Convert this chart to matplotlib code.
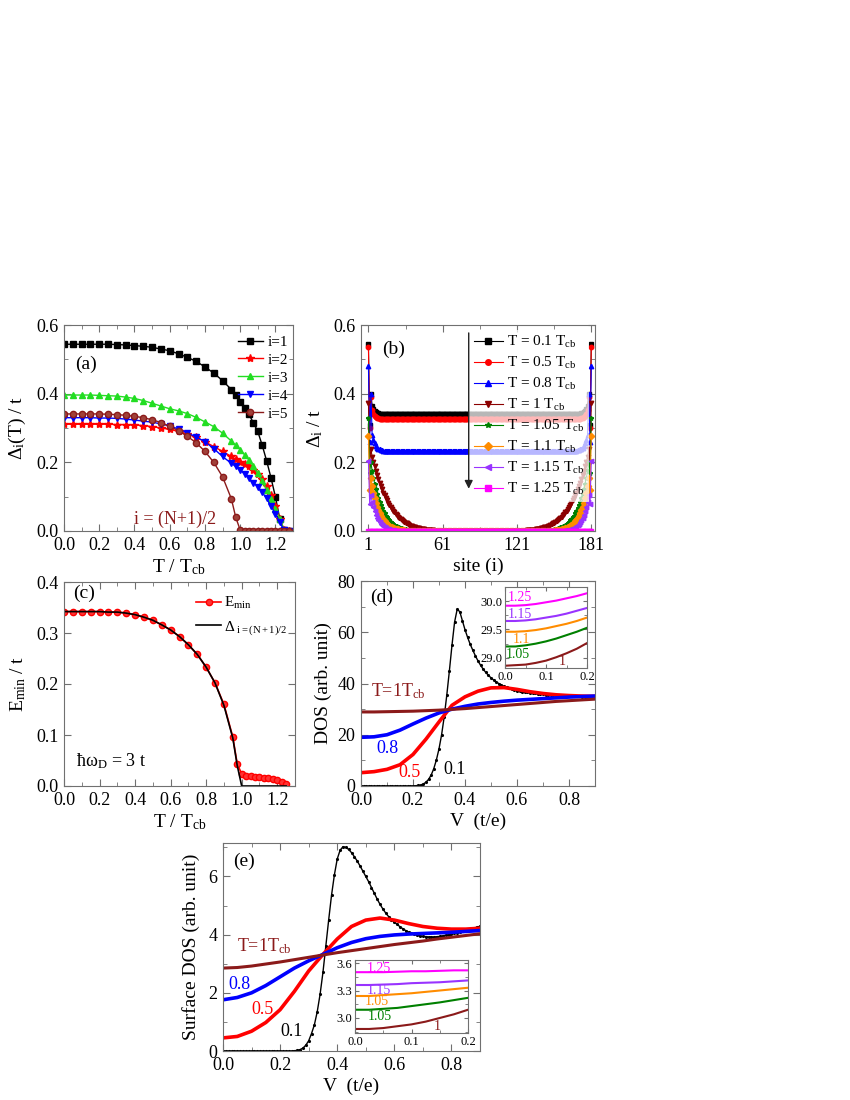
import matplotlib
matplotlib.use('Agg')
import matplotlib.pyplot as plt
from matplotlib.ticker import MultipleLocator, FixedLocator, FormatStrFormatter

plt.rcParams['font.family'] = 'serif'
plt.rcParams['font.serif'] = ['Liberation Serif', 'DejaVu Serif']
plt.rcParams['mathtext.fontset'] = 'custom'
plt.rcParams['mathtext.rm'] = 'Liberation Serif'
plt.rcParams['mathtext.it'] = 'Liberation Serif:italic'
plt.rcParams['mathtext.bf'] = 'Liberation Serif:bold'

BROWN = '#8B1A1A'
GRAY = '#707070'

# --- (a) gap at sites i=1..5 vs T ---
T_a = [0.0, 0.05, 0.1, 0.15, 0.2, 0.25, 0.3, 0.35, 0.4, 0.45, 0.5, 0.55, 0.6, 0.65,
       0.7, 0.75, 0.8, 0.85, 0.9, 0.95, 0.975, 1.0, 1.025, 1.05, 1.075, 1.1, 1.125,
       1.15, 1.175, 1.2, 1.225, 1.25, 1.275]
gap_i1 = [0.544, 0.544, 0.544, 0.544, 0.544, 0.544, 0.543, 0.542, 0.540, 0.538, 0.535,
          0.530, 0.525, 0.516, 0.506, 0.494, 0.478, 0.460, 0.438, 0.412, 0.395, 0.377,
          0.358, 0.340, 0.315, 0.290, 0.250, 0.205, 0.155, 0.100, 0.035, 0.002, 0.0]
gap_i2 = [0.311, 0.311, 0.311, 0.311, 0.311, 0.311, 0.310, 0.310, 0.309, 0.307, 0.304,
          0.300, 0.296, 0.290, 0.283, 0.273, 0.260, 0.246, 0.232, 0.217, 0.209, 0.201,
          0.195, 0.188, 0.178, 0.165, 0.150, 0.130, 0.105, 0.072, 0.035, 0.003, 0.0]
gap_i3 = [0.396, 0.396, 0.396, 0.396, 0.395, 0.394, 0.393, 0.390, 0.386, 0.380, 0.372,
          0.364, 0.356, 0.350, 0.342, 0.331, 0.318, 0.304, 0.285, 0.262, 0.250, 0.237,
          0.222, 0.207, 0.188, 0.168, 0.145, 0.120, 0.093, 0.063, 0.035, 0.003, 0.0]
gap_i4 = [0.330, 0.330, 0.330, 0.330, 0.329, 0.329, 0.328, 0.326, 0.323, 0.320, 0.317,
          0.312, 0.306, 0.297, 0.286, 0.274, 0.260, 0.240, 0.217, 0.197, 0.188, 0.178,
          0.166, 0.153, 0.141, 0.129, 0.113, 0.095, 0.073, 0.050, 0.025, 0.002, 0.0]
gap_i5 = [0.341, 0.341, 0.341, 0.341, 0.341, 0.340, 0.339, 0.337, 0.334, 0.330, 0.324,
          0.316, 0.305, 0.292, 0.276, 0.257, 0.232, 0.200, 0.158, 0.094, 0.040, 0.003,
          0.0, 0.0, 0.0, 0.0, 0.0, 0.0, 0.0, 0.0, 0.0, 0.0, 0.0]

# --- (b) gap profile along the chain (edge part, rest is bulk, mirrored) ---
N_SITES = 181
edge_01 = [0.545, 0.31, 0.40, 0.365, 0.355, 0.350, 0.347, 0.345, 0.343, 0.342, 0.341]
bulk_01 = 0.340
edge_05 = [0.535, 0.30, 0.39, 0.352, 0.342, 0.336, 0.332, 0.330, 0.328, 0.327, 0.326]
bulk_05 = 0.325
edge_08 = [0.48, 0.26, 0.40, 0.28, 0.265, 0.255, 0.248, 0.243, 0.240, 0.238, 0.236,
           0.235, 0.234, 0.233]
bulk_08 = 0.232
edge_10 = [0.374, 0.20, 0.24, 0.215, 0.200, 0.188, 0.175, 0.163, 0.152, 0.141, 0.131,
           0.121, 0.112, 0.104, 0.096, 0.089, 0.082, 0.076, 0.070, 0.064, 0.059, 0.054,
           0.050, 0.046, 0.042, 0.038, 0.035, 0.032, 0.029, 0.027, 0.024, 0.022, 0.020,
           0.018, 0.016, 0.015, 0.013, 0.012, 0.011, 0.010, 0.009, 0.008, 0.007, 0.006,
           0.005, 0.005, 0.004, 0.004, 0.003, 0.003, 0.002, 0.002, 0.002, 0.001, 0.001]
edge_105 = [0.33, 0.17, 0.20, 0.175, 0.155, 0.138, 0.122, 0.108, 0.096, 0.085, 0.075,
            0.066, 0.058, 0.051, 0.045, 0.040, 0.035, 0.031, 0.027, 0.024, 0.021, 0.018,
            0.016, 0.014, 0.012, 0.011, 0.009, 0.008, 0.007, 0.006, 0.005, 0.004, 0.004,
            0.003, 0.003, 0.002, 0.002, 0.001]
edge_11 = [0.276, 0.12, 0.155, 0.130, 0.112, 0.096, 0.083, 0.071, 0.061, 0.052, 0.045,
           0.038, 0.033, 0.028, 0.024, 0.020, 0.017, 0.015, 0.013, 0.011, 0.009, 0.008,
           0.007, 0.006, 0.005, 0.004, 0.003, 0.003, 0.002, 0.002, 0.001]
edge_115 = [0.203, 0.08, 0.105, 0.085, 0.070, 0.058, 0.048, 0.039, 0.032, 0.026, 0.021,
            0.017, 0.014, 0.011, 0.009, 0.007, 0.006, 0.005, 0.004, 0.003, 0.002, 0.002,
            0.001]
edge_125 = [0.0]
T_labels_b = ['0.1', '0.5', '0.8', '1', '1.05', '1.1', '1.15', '1.25']

# --- (c) minimum excitation energy vs T ---
T_c = [0.0, 0.05, 0.1, 0.15, 0.2, 0.25, 0.3, 0.35, 0.4, 0.45, 0.5, 0.55, 0.6, 0.65, 0.7,
       0.75, 0.8, 0.85, 0.9, 0.95, 0.975, 1.0, 1.025, 1.05, 1.075, 1.1, 1.125, 1.15,
       1.175, 1.2, 1.225, 1.25]
E_min = [0.342, 0.342, 0.342, 0.342, 0.342, 0.341, 0.341, 0.339, 0.336, 0.331, 0.325,
         0.316, 0.306, 0.293, 0.277, 0.258, 0.233, 0.202, 0.160, 0.096, 0.043, 0.024,
         0.020, 0.019, 0.018, 0.017, 0.016, 0.015, 0.013, 0.011, 0.008, 0.003]
gap_mid = [0.342, 0.342, 0.342, 0.342, 0.342, 0.341, 0.341, 0.339, 0.336, 0.331, 0.325,
           0.316, 0.306, 0.293, 0.277, 0.258, 0.233, 0.202, 0.158, 0.094, 0.040, 0.0,
           0.0, 0.0, 0.0, 0.0, 0.0, 0.0, 0.0, 0.0, 0.0, 0.0]

# --- (d) DOS vs bias ---
V_fine = [0.00, 0.01, 0.02, 0.03, 0.04, 0.05, 0.06, 0.07, 0.08, 0.09, 0.10, 0.11, 0.12,
          0.13, 0.14, 0.15, 0.16, 0.17, 0.18, 0.19, 0.20, 0.21, 0.22, 0.23, 0.24, 0.25,
          0.26, 0.27, 0.28, 0.29, 0.30, 0.31, 0.32, 0.33, 0.34, 0.35, 0.36, 0.37, 0.38,
          0.39, 0.40, 0.41, 0.42, 0.43, 0.44, 0.45, 0.46, 0.47, 0.48, 0.49, 0.50, 0.51,
          0.52, 0.53, 0.54, 0.55, 0.56, 0.57, 0.58, 0.59, 0.60, 0.61, 0.62, 0.63, 0.64,
          0.65, 0.66, 0.67, 0.68, 0.69, 0.70, 0.71, 0.72, 0.73, 0.74, 0.75, 0.76, 0.77,
          0.78, 0.79, 0.80, 0.81, 0.82, 0.83, 0.84, 0.85, 0.86, 0.87, 0.88, 0.89, 0.90]
dos_01 = [0, 0, 0, 0, 0, 0, 0, 0, 0, 0, 0, 0, 0, 0, 0, 0, 0, 0, 0, 0,
          0.05, 0.1, 0.2, 0.4, 0.8, 1.5, 2.6, 4.3, 6.8, 10.2, 14.5, 20.0, 27.0, 35.5,
          45.0, 55.0, 64.0, 69.0, 68.0, 64.5, 61.0, 58.0, 55.3, 53.0, 50.8, 48.8, 47.1,
          45.6, 44.3, 43.2, 42.2, 41.4, 40.6, 40.0, 39.4, 38.9, 38.5, 38.1, 37.8, 37.5,
          37.2, 37.0, 36.8, 36.6, 36.5, 36.3, 36.2, 36.1, 36.0, 35.9, 35.8, 35.7, 35.6,
          35.5, 35.5, 35.4, 35.4, 35.3, 35.2, 35.2, 35.1, 35.1, 35.0, 35.0, 35.0, 34.9,
          34.9, 34.9, 34.8, 34.8, 34.8]
V_coarse = [0.0, 0.05, 0.1, 0.15, 0.2, 0.25, 0.3, 0.35, 0.4, 0.45, 0.5, 0.55, 0.6,
            0.65, 0.7, 0.75, 0.8, 0.85, 0.9]
dos_05 = [5.2, 5.6, 6.5, 8.3, 12.3, 18.3, 25.0, 31.5, 34.8, 37.0, 38.3, 38.4, 37.7,
          36.8, 36.1, 35.6, 35.3, 35.1, 35.0]
dos_08 = [19.0, 19.2, 20.0, 21.8, 24.2, 26.5, 28.5, 30.0, 31.1, 32.0, 32.6, 33.1, 33.5,
          33.8, 34.1, 34.4, 34.7, 34.9, 35.1]
dos_10 = [28.9, 28.9, 29.0, 29.1, 29.2, 29.4, 29.6, 29.9, 30.2, 30.6, 31.0, 31.4, 31.8,
          32.2, 32.6, 33.0, 33.3, 33.6, 33.9]

# insets: low bias DOS above T_cb
V_in = [0.0, 0.025, 0.05, 0.075, 0.1, 0.125, 0.15, 0.175, 0.2]
dosin_125 = [29.92, 29.92, 29.93, 29.95, 29.98, 30.01, 30.05, 30.09, 30.14]
dosin_115 = [29.65, 29.65, 29.66, 29.68, 29.71, 29.74, 29.78, 29.83, 29.88]
dosin_11 = [29.46, 29.46, 29.47, 29.49, 29.52, 29.56, 29.60, 29.65, 29.71]
dosin_105 = [29.20, 29.20, 29.22, 29.25, 29.29, 29.34, 29.40, 29.46, 29.53]
dosin_10 = [28.86, 28.87, 28.88, 28.91, 28.95, 29.01, 29.08, 29.16, 29.26]

# --- (e) surface DOS ---
sdos_01 = [0, 0, 0, 0, 0, 0, 0, 0, 0, 0, 0, 0, 0, 0, 0, 0, 0, 0, 0, 0, 0, 0, 0, 0, 0,
           0.01, 0.02, 0.05, 0.1, 0.2, 0.35, 0.6, 0.9, 1.35, 1.95, 2.7, 3.6, 4.5, 5.35,
           6.05, 6.6, 6.9, 7.02, 7.0, 6.93, 6.82, 6.68, 6.53, 6.36, 6.18, 6.0, 5.82,
           5.62, 5.42, 5.22, 5.04, 4.88, 4.74, 4.62, 4.52, 4.43, 4.35, 4.27, 4.2, 4.14,
           4.09, 4.05, 4.01, 3.98, 3.96, 3.94, 3.93, 3.92, 3.92, 3.92, 3.93, 3.94, 3.96,
           3.98, 4.0, 4.02, 4.04, 4.06, 4.09, 4.11, 4.14, 4.17, 4.2, 4.23, 4.26, 4.29]
sdos_05 = [0.45, 0.5, 0.68, 0.98, 1.42, 2.05, 2.75, 3.32, 3.85, 4.28, 4.5, 4.57, 4.5,
           4.38, 4.28, 4.22, 4.19, 4.19, 4.22]
sdos_08 = [1.76, 1.84, 2.0, 2.25, 2.55, 2.85, 3.1, 3.32, 3.55, 3.73, 3.86, 3.94, 3.99,
           4.02, 4.04, 4.06, 4.08, 4.11, 4.14]
sdos_10 = [2.85, 2.87, 2.92, 2.99, 3.06, 3.14, 3.22, 3.3, 3.38, 3.45, 3.52, 3.59, 3.66,
           3.72, 3.78, 3.85, 3.91, 3.97, 4.03]
sdosin_125 = [3.50, 3.50, 3.50, 3.505, 3.51, 3.51, 3.515, 3.52, 3.52]
sdosin_115 = [3.36, 3.36, 3.365, 3.37, 3.38, 3.385, 3.39, 3.40, 3.41]
sdosin_11 = [3.24, 3.24, 3.25, 3.26, 3.27, 3.285, 3.30, 3.315, 3.33]
sdosin_105 = [3.09, 3.09, 3.10, 3.11, 3.13, 3.15, 3.17, 3.195, 3.22]
sdosin_10 = [2.88, 2.88, 2.89, 2.91, 2.93, 2.96, 3.00, 3.04, 3.09]


def profile(edge, bulk=0.0):
    mid = [bulk] * (N_SITES - 2 * len(edge))
    return edge + mid + edge[::-1]


def style(ax, size=13, xmin=None, ymin=None):
    ax.tick_params(which='both', direction='in', top=True, right=True,
                   color=GRAY, labelsize=size, pad=4)
    ax.tick_params(which='major', length=5)
    ax.tick_params(which='minor', length=3)
    for s in ax.spines.values():
        s.set_color(GRAY)
    if xmin:
        ax.xaxis.set_minor_locator(MultipleLocator(xmin))
    if ymin:
        ax.yaxis.set_minor_locator(MultipleLocator(ymin))


fig = plt.figure(figsize=(8.5, 11), dpi=100)
W, H = 850.0, 1100.0


def box(l, t, r, b):
    return [l / W, 1 - b / H, (r - l) / W, (b - t) / H]


ax_a = fig.add_axes(box(64, 325, 293, 531))
ax_b = fig.add_axes(box(361, 325, 595, 531))
ax_c = fig.add_axes(box(64, 582, 295, 786))
ax_d = fig.add_axes(box(361, 581, 595, 786))
ax_e = fig.add_axes(box(223, 843, 480, 1051))

# ---------- (a) ----------
ms = 4.5
ax_a.plot(T_a, gap_i1, 's-', color='black', ms=ms, lw=1, label='i=1')
ax_a.plot(T_a, gap_i2, '*-', color='#FF0000', ms=ms + 1.5, lw=1, label='i=2')
ax_a.plot(T_a, gap_i3, '^-', color='#22DD22', ms=ms + 0.5, lw=1, label='i=3')
ax_a.plot(T_a, gap_i4, 'v-', color='#0000FF', ms=ms + 0.5, lw=1, label='i=4')
ax_a.plot(T_a, gap_i5, 'o-', color=BROWN, mfc='#A0413A', ms=ms, lw=1, label='i=5')
ax_a.set_xlim(0, 1.3)
ax_a.set_ylim(0, 0.6)
ax_a.xaxis.set_major_locator(MultipleLocator(0.2))
ax_a.yaxis.set_major_locator(MultipleLocator(0.2))
style(ax_a, xmin=0.1, ymin=0.1)
ax_a.set_xlabel(r'T / T$_{\mathrm{cb}}$', fontsize=14, labelpad=3)
ax_a.set_ylabel(r'$\Delta_{\mathrm{i}}\mathrm{(T)\ /\ t}$', fontsize=14, labelpad=6)
ax_a.legend(loc='upper right', bbox_to_anchor=(1.03, 1.01), frameon=False, fontsize=11,
            labelspacing=0.28, handlelength=1.6, handletextpad=0.3, borderpad=0.3)
ax_a.text(0.05, 0.81, '(a)', transform=ax_a.transAxes, fontsize=14, va='center')
ax_a.text(0.485, 0.055, 'i = (N+1)/2', transform=ax_a.transAxes, fontsize=13,
          color=BROWN, ha='center', va='center')

# ---------- (b) ----------
sites = list(range(1, N_SITES + 1))
b_series = [
    (profile(edge_01, bulk_01), 's', 'black'),
    (profile(edge_05, bulk_05), 'o', '#FF0000'),
    (profile(edge_08, bulk_08), '^', '#0000FF'),
    (profile(edge_10), 'v', '#8B0000'),
    (profile(edge_105), '*', '#008000'),
    (profile(edge_11), 'D', '#FF8C00'),
    (profile(edge_115), '<', '#9933FF'),
    (profile(edge_125), 's', '#FF00FF'),
]
for (vals, mk, col), lab in zip(b_series, T_labels_b):
    ax_b.plot(sites, vals, marker=mk, color=col, ms=3.2, lw=0.8,
              label=r'T = %s T$_{\mathrm{cb}}$' % lab)
ax_b.set_xlim(-5, 184)
ax_b.set_ylim(0, 0.6)
ax_b.xaxis.set_major_locator(FixedLocator([1, 61, 121, 181]))
ax_b.xaxis.set_minor_locator(FixedLocator([31, 91, 151]))
ax_b.yaxis.set_major_locator(MultipleLocator(0.2))
style(ax_b, ymin=0.1)
ax_b.set_xlabel('site (i)', fontsize=14, labelpad=3)
ax_b.set_ylabel(r'$\Delta_{\mathrm{i}}\mathrm{\ /\ t}$', fontsize=14, labelpad=6)
ax_b.legend(loc='upper left', bbox_to_anchor=(0.43, 1.015), fontsize=11,
            labelspacing=0.32, handlelength=1.9, handletextpad=0.3,
            borderpad=0.3, markerscale=1.25, frameon=True, framealpha=0.72,
            facecolor='white', edgecolor='none', fancybox=False)
ax_b.annotate('', xy=(82, 0.115), xytext=(82, 0.585),
              arrowprops=dict(arrowstyle='-|>', color='#222222', lw=1.0,
                              mutation_scale=12), zorder=10)
ax_b.text(0.09, 0.88, '(b)', transform=ax_b.transAxes, fontsize=14, va='center')

# ---------- (c) ----------
ax_c.plot(T_c, E_min, 'o-', color='#FF0000', mfc='#FF3333', ms=4.5, lw=1.2,
          label=r'E$_{\mathrm{min}}$')
ax_c.plot(T_c, gap_mid, '-', color='black', lw=1.2,
          label=r'$\Delta_{\ \mathrm{i=(N+1)/2}}$')
ax_c.set_xlim(0, 1.3)
ax_c.set_ylim(0, 0.4)
ax_c.xaxis.set_major_locator(MultipleLocator(0.2))
ax_c.yaxis.set_major_locator(MultipleLocator(0.1))
style(ax_c, xmin=0.1)
ax_c.set_xlabel(r'T / T$_{\mathrm{cb}}$', fontsize=14, labelpad=3)
ax_c.set_ylabel(r'E$_{\mathrm{min}}$ / t', fontsize=14, labelpad=6)
ax_c.legend(loc='upper right', bbox_to_anchor=(1.02, 0.995), frameon=False, fontsize=11,
            labelspacing=0.5, handlelength=1.6, handletextpad=0.2, borderpad=0.3)
ax_c.text(0.04, 0.945, '(c)', transform=ax_c.transAxes, fontsize=14, va='center')
ax_c.text(0.05, 0.12, r'ħω$_{\mathrm{D}}$ = 3 t', transform=ax_c.transAxes,
          fontsize=13, va='center')

# ---------- (d) ----------
ax_d.plot(V_fine, dos_01, '.-', color='black', ms=2.5, lw=1.0)
ax_d.plot(V_coarse, dos_05, '-', color='#FF0000', lw=2.6)
ax_d.plot(V_coarse, dos_08, '-', color='#0000FF', lw=2.6)
ax_d.plot(V_coarse, dos_10, '-', color=BROWN, lw=2.2)
ax_d.set_xlim(0, 0.9)
ax_d.set_ylim(0, 80)
ax_d.xaxis.set_major_locator(MultipleLocator(0.2))
ax_d.yaxis.set_major_locator(MultipleLocator(20))
style(ax_d, xmin=0.1, ymin=10)
ax_d.set_xlabel('V  (t/e)', fontsize=14, labelpad=3)
ax_d.set_ylabel('DOS (arb. unit)', fontsize=14, labelpad=4)
ax_d.text(0.04, 0.92, '(d)', transform=ax_d.transAxes, fontsize=14, va='center')
ax_d.text(0.04, 37, r'T=1T$_{\mathrm{cb}}$', color=BROWN, fontsize=13, va='center')
ax_d.text(0.058, 14.8, '0.8', color='#0000FF', fontsize=13, va='center')
ax_d.text(0.143, 5.4, '0.5', color='#FF0000', fontsize=13, va='center')
ax_d.text(0.317, 6.6, '0.1', color='black', fontsize=13, va='center')

in_d = fig.add_axes(box(505, 587, 587, 668))
in_curves = [(dosin_125, '#FF00FF'), (dosin_115, '#9933FF'), (dosin_11, '#FF8C00'),
             (dosin_105, '#008000'), (dosin_10, BROWN)]
for vals, col in in_curves:
    in_d.plot(V_in, vals, '-', color=col, lw=1.5)
in_d.set_xlim(0, 0.2)
in_d.set_ylim(28.82, 30.25)
in_d.xaxis.set_major_locator(MultipleLocator(0.1))
in_d.yaxis.set_major_locator(MultipleLocator(0.5))
in_d.yaxis.set_major_formatter(FormatStrFormatter('%.1f'))
style(in_d, size=9, xmin=0.05, ymin=0.25)
in_d.tick_params(pad=2)
in_d.tick_params(which='major', length=3)
in_d.tick_params(which='minor', length=2)
in_d.text(0.007, 30.07, '1.25', color='#FF00FF', fontsize=10, va='center')
in_d.text(0.007, 29.77, '1.15', color='#9933FF', fontsize=10, va='center')
in_d.text(0.02, 29.33, '1.1', color='#FF8C00', fontsize=10, va='center')
in_d.text(0.003, 29.05, '1.05', color='#008000', fontsize=10, va='center')
in_d.text(0.13, 28.93, '1', color=BROWN, fontsize=10, va='center')

# ---------- (e) ----------
ax_e.plot(V_fine, sdos_01, '.-', color='black', ms=2.5, lw=1.0)
ax_e.plot(V_coarse, sdos_05, '-', color='#FF0000', lw=2.6)
ax_e.plot(V_coarse, sdos_08, '-', color='#0000FF', lw=2.6)
ax_e.plot(V_coarse, sdos_10, '-', color=BROWN, lw=2.2)
ax_e.set_xlim(0, 0.9)
ax_e.set_ylim(0, 7.15)
ax_e.xaxis.set_major_locator(MultipleLocator(0.2))
ax_e.yaxis.set_major_locator(MultipleLocator(2))
style(ax_e, xmin=0.1, ymin=1)
ax_e.set_xlabel('V  (t/e)', fontsize=14, labelpad=3)
ax_e.set_ylabel('Surface DOS (arb. unit)', fontsize=14, labelpad=6)
ax_e.text(0.04, 0.91, '(e)', transform=ax_e.transAxes, fontsize=14, va='center')
ax_e.text(0.049, 3.6, r'T=1T$_{\mathrm{cb}}$', color=BROWN, fontsize=13, va='center')
ax_e.text(0.018, 2.3, '0.8', color='#0000FF', fontsize=13, va='center')
ax_e.text(0.1, 1.41, '0.5', color='#FF0000', fontsize=13, va='center')
ax_e.text(0.2, 0.66, '0.1', color='black', fontsize=13, va='center')

in_e = fig.add_axes(box(355, 960, 468, 1033))
in_curves_e = [(sdosin_125, '#FF00FF'), (sdosin_115, '#9933FF'), (sdosin_11, '#FF8C00'),
               (sdosin_105, '#008000'), (sdosin_10, BROWN)]
for vals, col in in_curves_e:
    in_e.plot(V_in, vals, '-', color=col, lw=1.5)
in_e.set_xlim(0, 0.2)
in_e.set_ylim(2.836, 3.633)
in_e.xaxis.set_major_locator(MultipleLocator(0.1))
in_e.yaxis.set_major_locator(MultipleLocator(0.3))
in_e.yaxis.set_major_formatter(FormatStrFormatter('%.1f'))
style(in_e, size=9, xmin=0.05, ymin=0.15)
in_e.tick_params(pad=2)
in_e.tick_params(which='major', length=3)
in_e.tick_params(which='minor', length=2)
in_e.text(0.02, 3.535, '1.25', color='#FF00FF', fontsize=10, va='center')
in_e.text(0.02, 3.305, '1.15', color='#9933FF', fontsize=10, va='center')
in_e.text(0.018, 3.185, '1.05', color='#FF8C00', fontsize=10, va='center')
in_e.text(0.022, 3.02, '1.05', color='#008000', fontsize=10, va='center')
in_e.text(0.14, 2.91, '1', color=BROWN, fontsize=10, va='center')

fig.savefig('out.png', dpi=100)
